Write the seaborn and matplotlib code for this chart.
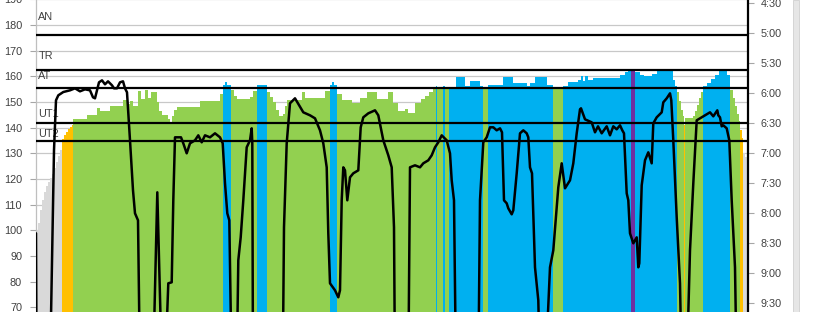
import numpy as np
import pandas as pd
import matplotlib
matplotlib.use("Agg")
import matplotlib.pyplot as plt
import seaborn as sns
from matplotlib.patches import Rectangle

# ---------------- data ----------------
# heart-rate (bpm) per segment: segment start (sample index) and value
hr_start = [0, 2, 4, 6, 8, 10, 12, 14, 16, 18,
            20, 22, 24, 26, 28, 30, 32, 34, 36, 37,
            51, 61, 64, 74, 87, 92, 94, 97, 102, 105,
            109, 112, 115, 121, 123, 126, 132, 134, 136, 138,
            141, 164, 184, 187, 189, 191, 195, 198, 201, 214,
            217, 221, 231, 234, 237, 240, 243, 247, 249, 251,
            266, 269, 289, 294, 296, 298, 301, 306, 316, 324,
            331, 341, 352, 357, 362, 369, 372, 379, 385, 389,
            393, 397, 400, 401, 407, 409, 413, 420, 429, 434,
            444, 447, 452, 467, 477, 491, 494, 499, 511, 517,
            527, 532, 542, 545, 547, 549, 552, 557, 584, 589,
            592, 595, 599, 604, 608, 616, 621, 637, 639, 641,
            643, 645, 647, 648, 649, 657, 659, 661, 663, 665,
            667, 671, 675, 679, 683, 691, 694, 697, 699, 701,
            703, 704, 706, 707, 709, 711]
hr_bpm = [100.0, 103.0, 108.0, 112.0, 115.0, 117.3, 119.0, 120.5, 122.0, 124.3,
          126.6, 129.0, 131.3, 135.5, 137.0, 138.5, 139.5, 140.2, 141.2, 143.3,
          144.8, 147.8, 146.3, 148.5, 150.9, 149.3, 150.5, 148.5, 154.3, 151.0,
          154.5, 151.5, 154.0, 150.0, 146.5, 145.0, 143.5, 142.4, 144.5, 147.0,
          148.2, 150.2, 153.0, 156.7, 157.8, 156.7, 154.5, 152.5, 151.0, 152.0,
          154.2, 156.5, 154.0, 152.0, 150.0, 147.0, 144.5, 145.5, 148.5, 150.9,
          154.0, 151.5, 154.2, 156.7, 157.8, 156.7, 153.0, 150.9, 149.6, 151.5,
          154.0, 151.2, 154.0, 149.6, 146.3, 147.3, 145.7, 149.6, 151.0, 152.5,
          154.0, 155.0, 156.2, 155.0, 156.2, 155.2, 156.0, 159.6, 156.3, 158.0,
          156.3, 155.0, 156.7, 159.8, 157.5, 156.2, 157.5, 159.7, 156.7, 155.0,
          156.3, 157.8, 158.5, 160.0, 158.3, 160.3, 158.5, 159.2, 160.5, 161.5,
          162.1, 163.0, 161.8, 160.6, 160.2, 160.8, 161.9, 158.5, 156.3, 154.0,
          150.5, 147.0, 144.5, 141.2, 143.8, 144.5, 146.5, 149.0, 151.5, 154.0,
          156.3, 157.5, 159.0, 160.5, 161.9, 160.5, 154.5, 151.5, 148.5, 145.5,
          142.5, 139.0, 136.0, 130.0, 128.5, 127.0]
hr_end = 712

# pace (seconds per 500 m) at sample index
pace_t = [0, 0.6, 14, 18, 20, 22.3, 27.3, 34, 39, 44,
          49, 54, 57, 59, 61, 63, 66, 69, 72, 76,
          78, 81, 84, 87, 89, 91, 94, 97, 99, 102,
          104, 117, 121.3, 124, 125.7, 129, 132.3, 135.7, 137.3, 139,
          145, 147.3, 150.7, 154, 159, 162.3, 165.7, 169, 174, 179,
          184, 186.7, 189, 191.3, 193.3, 195.7, 200.7, 202.3, 204.7, 207.3,
          210.7, 214, 215.7, 216.3, 217, 246.7, 248, 250.7, 254, 259,
          262, 267.3, 274, 279, 284, 287.3, 290.7, 292.3, 294, 299,
          302.3, 304, 305.7, 307.3, 309, 311.3, 314, 317.3, 322.3, 324.7,
          327.3, 332.3, 339, 342.3, 347.3, 352.3, 355.7, 358, 359, 372.3,
          374, 379, 384, 387.3, 392.3, 395.7, 399, 402.3, 405.7, 410.7,
          414, 415.7, 418, 420, 442.3, 444, 447.3, 450.7, 454, 457.3,
          460.7, 464, 466, 468, 470.7, 472.3, 475.7, 477.3, 480.7, 484,
          487.3, 490.7, 492.3, 494, 496, 499, 502.3, 504, 509.3, 514,
          517.3, 522.3, 525.7, 529, 534, 537.3, 540.7, 544, 545, 549,
          555.7, 559, 562, 565.7, 570.7, 574, 577.3, 580.7, 584, 586.3,
          588, 590.7, 592.3, 594, 597.3, 600.7, 602.3, 603.3, 605.7, 609,
          612.3, 615.7, 617.3, 620.7, 625.7, 627.3, 630.7, 634, 635.3, 637.3,
          640.7, 644, 645.7, 650.7, 654, 657.3, 660.7, 664, 669, 674,
          677.3, 681.3, 682.3, 684, 685.7, 687.3, 690.7, 693.3, 695.7, 697.3,
          699, 700.7, 712]
pace_sec = [500, 640, 640, 417, 367, 362, 358.7, 357, 355, 358,
            356, 357, 364, 365, 357, 349, 347, 351, 348, 352,
            355, 355, 349, 348, 355, 359, 407, 457, 480, 487,
            640, 640, 459, 560, 640, 640, 550, 549, 467, 404,
            404, 410, 420, 410, 407, 402, 409, 402, 404, 400,
            404, 410, 450, 480, 487, 640, 640, 527, 504, 467,
            414, 407, 395, 410, 640, 640, 494, 410, 370, 365,
            370, 379, 382, 385, 397, 410, 434, 500, 550, 557,
            564, 557, 467, 434, 437, 467, 444, 440, 437, 394,
            384, 380, 377, 382, 407, 422, 434, 494, 640, 640,
            434, 432, 434, 430, 427, 422, 414, 409, 402, 407,
            420, 447, 467, 640, 640, 467, 409, 404, 394, 394,
            397, 395, 399, 467, 470, 475, 481, 477, 440, 400,
            397, 400, 404, 434, 440, 534, 567, 640, 640, 534,
            517, 454, 430, 455, 447, 430, 400, 376, 375, 386,
            389, 399, 393, 400, 393, 402, 393, 396, 392, 397,
            400, 460, 467, 500, 510, 504, 534, 530, 452, 427,
            419, 430, 390, 384, 379, 369, 365, 360, 367, 407,
            484, 550, 640, 640, 517, 450, 387, 385, 382, 379,
            383, 377, 382, 384, 393, 392, 395, 407, 467, 500,
            534, 640, 640]

zone_names = ["AN", "TR", "AT", "UT1", "UT2"]
zone_bpm = [176.2, 162.3, 155.5, 141.8, 134.8]

hr_ticks = list(range(70, 200, 10))
pace_ticks = [270, 300, 330, 360, 390, 420, 450, 480, 510, 540, 570]
pace_labels = ["4:30", "5:00", "5:30", "6:00", "6:30", "7:00", "7:30",
               "8:00", "8:30", "9:00", "9:30"]

assert len(hr_start) == len(hr_bpm)
assert len(pace_t) == len(pace_sec)

# ---------------- style / layout ----------------
sns.set_style("white")
plt.rcParams['font.family'] = ['Liberation Sans', 'DejaVu Sans']

GREY, ORANGE, GREEN, BLUE, PURPLE, RED = (
    "#d9d9d9", "#ffc000", "#92d050", "#00b0f0", "#7030a0", "#ff0000")
TXT = "#404040"
label_y = [183.1, 167.9, 160.3, 145.5, 137.7]   # label placement (layout)

fig = plt.figure(figsize=(8.2, 3.12), dpi=100)
ax = fig.add_axes([36 / 820, 0, 712 / 820, 313.17 / 312])

# zone index for each HR segment
thr_an, thr_tr, thr_at, thr_ut1, thr_ut2 = zone_bpm
zone_edges = [thr_ut2, thr_ut1, thr_at, thr_tr, thr_an]
zone_colors = [GREY, ORANGE, GREEN, BLUE, PURPLE, RED]

bpm = np.array(hr_bpm, dtype=float)
edges = np.array(hr_start + [hr_end], dtype=float)
zone_idx = np.searchsorted(zone_edges, bpm, side="right")

# one stair-step area per zone (no seams between same-colour samples)
for zi, col in enumerate(zone_colors):
    vals = np.where(zone_idx == zi, bpm, 0.0)
    if not np.any(vals):
        continue
    ax.stairs(vals, edges, fill=True, baseline=0, color=col, lw=0,
              zorder=2)

for name, v, ly in zip(zone_names, zone_bpm, label_y):
    ax.axhline(v, color="black", lw=1.6, zorder=4)
    ax.text(2.3, ly, name, ha="left", va="center", fontsize=7.8,
            color=TXT, zorder=5)

ax.set_xlim(0, hr_end)
ax.set_ylim(68.17, 190.2)
ax.set_yticks(hr_ticks)
ax.set_xticks([])
ax.yaxis.grid(True, color="#c8c8c8", lw=0.9)
ax.set_axisbelow(True)
ax.tick_params(axis="y", left=True, length=4, width=0.8, color="#a6a6a6",
               labelsize=7.8, labelcolor=TXT, pad=6)
for s in ["top", "bottom", "right"]:
    ax.spines[s].set_visible(False)
ax.spines["left"].set_color("#bfbfbf")
ax.spines["left"].set_linewidth(0.9)

# pace line on the secondary (inverted) axis
ax2 = ax.twinx()
pace_df = pd.DataFrame({"t": pace_t, "sec": pace_sec})
sns.lineplot(data=pace_df, x="t", y="sec", ax=ax2, color="black", lw=1.8,
             sort=False, estimator=None, zorder=6)
ax2.set_ylim(578.7, 265.5)
ax2.set_xlim(0, hr_end)
ax2.set_yticks(pace_ticks)
ax2.set_yticklabels(pace_labels)
ax2.set_xlabel("")
ax2.set_ylabel("")
ax2.tick_params(axis="y", right=True, length=4, width=0.8, color="#a6a6a6",
                labelsize=7.8, labelcolor=TXT, pad=5)
for s in ["top", "bottom", "left"]:
    ax2.spines[s].set_visible(False)
ax2.spines["right"].set_color("black")
ax2.spines["right"].set_linewidth(1.6)

# window splitter band at the far right
fig.patches.append(Rectangle((793 / 820, 0), 6 / 820, 1,
                             transform=fig.transFigure, facecolor="#e6e6e6",
                             edgecolor="#d0d0d0", lw=0.6))

fig.savefig("out.png", dpi=100)
